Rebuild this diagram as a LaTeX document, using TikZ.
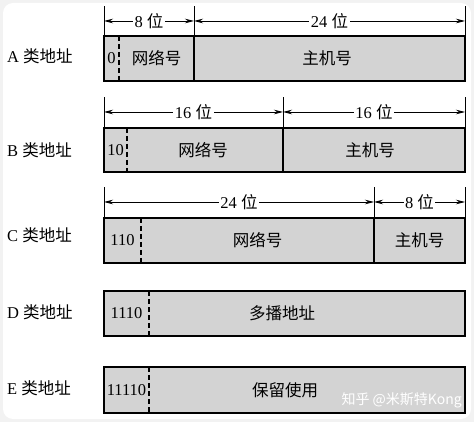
\documentclass[tikz,border=0pt]{standalone}
\usepackage{fontspec}
\setmainfont{Liberation Serif}
\newfontfamily\cjk{Noto Sans CJK SC}
\usetikzlibrary{arrows.meta}

\newcommand{\zh}[1]{{\cjk #1}}

\begin{document}
\begin{tikzpicture}[%
        x = 1pt,
        y = -1pt,
        > = {Stealth[length=9pt, width=4.5pt]},
        fieldbox/.style = {draw = black, fill = fieldgray, line width = 1.4pt},
        splitline/.style = {draw = black, line width = 1.2pt},
        prefixline/.style = {draw = black, line width = 1.1pt, dash pattern = on 5pt off 3pt},
        tickline/.style = {draw = black, line width = 0.8pt},
        spanline/.style = {draw = black, line width = 0.8pt, <->},
        bitslabel/.style = {fill = white, inner sep = 1.5pt, font = \fontsize{16.5}{19}\selectfont},
        fieldtext/.style = {inner sep = 0pt, font = \fontsize{16.5}{19}\selectfont},
        classlabel/.style = {anchor = west, inner sep = 0pt, font = \fontsize{16.5}{19}\selectfont}
    ]
        \definecolor{fieldgray}{RGB}{211,211,211}

        % Page background with the faint rounded frame.
        \fill[gray!10] (0,0) rectangle (474,422);
        \fill[white, rounded corners = 10pt] (3,3) rectangle (471,419);
        \useasboundingbox (0,0) rectangle (474,422);

        % Class A: 8 bits network, 24 bits host.
        \coordinate (A0) at (104,36);
        \coordinate (A1) at (194,36);
        \coordinate (A2) at (465,36);
        \draw[fieldbox] (104,36) rectangle (465,81);
        \draw[prefixline] (119,36) -- (119,81);
        \draw[splitline] (A1) -- (194,81);
        \foreach \p in {A0, A1, A2}
            \draw[tickline] (\p) -- ++(0,-30);
        \draw[spanline] ([yshift=15pt]A0) -- ([yshift=15pt]A1)
            node[bitslabel, midway] (a8) {8 \zh{位}};
        \draw[spanline] ([yshift=15pt]A1) -- ([yshift=15pt]A2)
            node[bitslabel, midway] (a24) {24 \zh{位}};
        \node[fieldtext] (a0) at (111.5,58.5) {0};
        \node[fieldtext] (anet) at (156.5,58.5) {\zh{网络号}};
        \node[fieldtext] (ahost) at (327,58.5) {\zh{主机号}};
        \node[classlabel] (alab) at (7,56) {A \zh{类地址}};

        % Class B: 16 bits network, 16 bits host.
        \coordinate (B0) at (104,128);
        \coordinate (B1) at (283,128);
        \coordinate (B2) at (465,128);
        \draw[fieldbox] (104,128) rectangle (465,172);
        \draw[prefixline] (127,128) -- (127,172);
        \draw[splitline] (B1) -- (283,172);
        \foreach \p in {B0, B1, B2}
            \draw[tickline] (\p) -- ++(0,-31);
        \draw[spanline] ([yshift=16pt]B0) -- ([yshift=16pt]B1)
            node[bitslabel, midway] (b16a) {16 \zh{位}};
        \draw[spanline] ([yshift=16pt]B1) -- ([yshift=16pt]B2)
            node[bitslabel, midway] (b16b) {16 \zh{位}};
        \node[fieldtext] (b10) at (115.5,150) {10};
        \node[fieldtext] (bnet) at (203,150) {\zh{网络号}};
        \node[fieldtext] (bhost) at (370,150) {\zh{主机号}};
        \node[classlabel] (blab) at (7,150) {B \zh{类地址}};

        % Class C: 24 bits network, 8 bits host.
        \coordinate (C0) at (104,218);
        \coordinate (C1) at (374,218);
        \coordinate (C2) at (465,218);
        \draw[fieldbox] (104,218) rectangle (465,263);
        \draw[prefixline] (141,218) -- (141,263);
        \draw[splitline] (C1) -- (374,263);
        \foreach \p in {C0, C1, C2}
            \draw[tickline] (\p) -- ++(0,-31);
        \draw[spanline] ([yshift=16pt]C0) -- ([yshift=16pt]C1)
            node[bitslabel, midway] (c24) {24 \zh{位}};
        \draw[spanline] ([yshift=16pt]C1) -- ([yshift=16pt]C2)
            node[bitslabel, midway] (c8) {8 \zh{位}};
        \node[fieldtext] (c110) at (122.5,240.5) {110};
        \node[fieldtext] (cnet) at (257.5,240.5) {\zh{网络号}};
        \node[fieldtext] (chost) at (419.5,240.5) {\zh{主机号}};
        \node[classlabel] (clab) at (7,235) {C \zh{类地址}};

        % Class D: multicast.
        \draw[fieldbox] (104,291) rectangle (465,336);
        \draw[prefixline] (149,291) -- (149,336);
        \node[fieldtext] (d1110) at (126.5,313.5) {1110};
        \node[fieldtext] (dmulti) at (282,313.5) {\zh{多播地址}};
        \node[classlabel] (dlab) at (7,312) {D \zh{类地址}};

        % Class E: reserved.
        \draw[fieldbox] (104,367) rectangle (465,413);
        \draw[prefixline] (149,367) -- (149,413);
        \node[fieldtext] (e11110) at (126.5,390) {11110};
        \node[fieldtext] (ersv) at (285,390) {\zh{保留使用}};
        \node[classlabel] (elab) at (7,388) {E \zh{类地址}};

        % Watermark.
        \node[anchor = east, inner sep = 0pt, text = white,
            font = \cjk\fontsize{14}{16}\selectfont] (mark) at (462,400) {知乎 @米斯特Kong};
    \end{tikzpicture}
\end{document}
